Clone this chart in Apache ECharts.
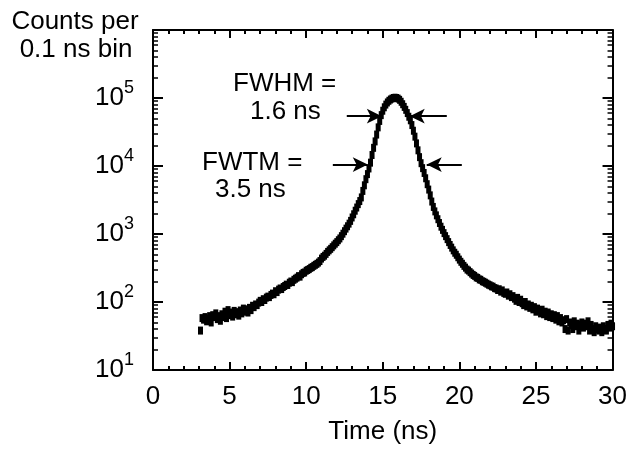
<!DOCTYPE html>
<html>
<head>
<meta charset="utf-8">
<script src="https://cdn.jsdelivr.net/npm/echarts@6/dist/echarts.min.js"></script>
<style>
  html, body { margin: 0; padding: 0; background: #fff; }
  #main { width: 630px; height: 450px; }
</style>
</head>
<body>
<div id="main"></div>
<script>
// time bins (ns), 0.1 ns wide, first bin at 3.1 ns
var startTime = 3.1
var binWidth = 0.1
// counts per bin
var counts = [
  38, 58, 55, 60, 52, 57, 62, 50, 64, 60,
  68, 56, 62, 53, 66, 60, 72, 58, 76, 64,
  70, 61, 74, 66, 71, 63, 75, 68, 80, 72,
  78, 70, 82, 76, 88, 84, 92, 90, 98, 104,
  100, 110, 107, 116, 120, 118, 127, 133, 130, 144,
  140, 152, 158, 155, 166, 172, 180, 178, 192, 200,
  196, 212, 220, 228, 240, 236, 256, 268, 272, 288,
  296, 305, 318, 326, 340, 352, 364, 380, 400, 435,
  460, 480, 510, 545, 575, 605, 640, 680, 720, 760,
  810, 860, 930, 1010, 1100, 1200, 1300, 1420, 1560, 1750,
  1950, 2200, 2450, 2750, 3050, 3450, 4300, 5200, 6400, 7600,
  9200, 11200, 14500, 18500, 23000, 29000, 37000, 46000, 56000, 65000,
  73000, 80000, 86000, 91000, 95000, 98000, 100000, 101000, 100000, 98000,
  94000, 88000, 81000, 74000, 67000, 60000, 53000, 47000, 40000, 33000,
  27000, 21500, 17000, 13500, 11000, 9300, 7900, 6600, 5400, 4500,
  3700, 3000, 2500, 2150, 1880, 1650, 1450, 1280, 1150, 1030,
  930, 840, 760, 690, 630, 575, 530, 495, 455, 420,
  390, 365, 340, 320, 300, 290, 275, 262, 250, 242,
  230, 226, 215, 212, 202, 198, 192, 186, 180, 176,
  170, 168, 160, 158, 150, 154, 142, 148, 136, 132,
  138, 124, 130, 118, 122, 112, 104, 115, 100, 108,
  96, 90, 100, 86, 92, 82, 88, 78, 84, 72,
  80, 75, 68, 77, 66, 72, 62, 70, 60, 66,
  58, 64, 55, 62, 52, 58, 50, 54, 40, 56,
  38, 50, 46, 40, 52, 44, 48, 38, 46, 50,
  42, 48, 44, 52, 38, 46, 40, 36, 44, 40,
  38, 42, 36, 44, 40, 38, 46, 42, 48, 44
]
// minor tick positions on the log axis
var minorY = [20, 30, 40, 50, 60, 70, 80, 90,
  200, 300, 400, 500, 600, 700, 800, 900,
  2000, 3000, 4000, 5000, 6000, 7000, 8000, 9000,
  20000, 30000, 40000, 50000, 60000, 70000, 80000, 90000,
  200000, 300000, 400000, 500000, 600000, 700000, 800000, 900000]
// arrows: [tail x, tip x, level]
var fwhmArrows = [[12.65, 14.94, 54000], [19.18, 16.76, 54000]]
var fwtmArrows = [[11.74, 14.02, 10500], [20.16, 17.87, 10500]]

var points = []
for (var i = 0; i < counts.length; i++) {
  points.push([+(startTime + i * binWidth).toFixed(1), counts[i]])
}

var arrowLines = []
fwhmArrows.concat(fwtmArrows).forEach(function (a) {
  arrowLines.push([{ coord: [a[0], a[2]] }, { coord: [a[1], a[2]] }])
})

var font = 'Liberation Sans, Arial, Helvetica, sans-serif'
var black = '#000'

var myChart = echarts.init(document.getElementById('main'))

function xAx(pos, labels) {
  return {
    type: 'value', position: pos, min: 0, max: 30, interval: 5,
    axisLine: { show: true, onZero: false, lineStyle: { color: black, width: 2 } },
    axisTick: { show: true, inside: true, length: 8, lineStyle: { color: black, width: 2 } },
    minorTick: { show: true, splitNumber: 5, length: 4, lineStyle: { color: black, width: 2 } },
    splitLine: { show: false },
    minorSplitLine: { show: false },
    axisLabel: { show: labels, color: black, fontFamily: font, fontSize: 26, margin: 14 },
    name: labels ? 'Time (ns)' : '',
    nameLocation: 'middle', nameGap: 49,
    nameTextStyle: { color: black, fontFamily: font, fontSize: 26 }
  }
}

function yMajor(pos, labels) {
  return {
    type: 'log', logBase: 10, position: pos, min: 10, max: 1000000,
    axisLine: { show: true, onZero: false, lineStyle: { color: black, width: 2 } },
    axisTick: { show: true, inside: true, length: 10, lineStyle: { color: black, width: 2 } },
    splitLine: { show: false },
    axisLabel: {
      show: labels, margin: 19, color: black,
      formatter: function (v) {
        var e = Math.round(Math.log10(v))
        if (e > 5) return ''
        return '{b|10}{s|' + e + '}'
      },
      rich: {
        b: { fontFamily: font, fontSize: 26, color: black },
        s: { fontFamily: font, fontSize: 18, color: black, padding: [0, 0, 20, 0] }
      }
    }
  }
}

function yMinor(pos) {
  return {
    type: 'log', logBase: 10, position: pos, min: 10, max: 1000000,
    axisLine: { show: false, onZero: false },
    axisTick: { show: true, inside: true, length: 5, customValues: minorY, lineStyle: { color: black, width: 1.5 } },
    axisLabel: { show: false },
    splitLine: { show: false }
  }
}

var option = {
  animation: false,
  backgroundColor: '#fff',
  grid: { left: 153, right: 17, top: 30, bottom: 76 },
  xAxis: [xAx('bottom', true), xAx('top', false)],
  yAxis: [yMajor('left', true), yMinor('left'), yMajor('right', false), yMinor('right')],
  series: [
    {
      type: 'scatter',
      data: points,
      symbol: 'rect',
      symbolSize: [5, 8],
      itemStyle: { color: black, opacity: 1 },
      markLine: {
        silent: true,
        symbol: ['none', 'arrow'],
        symbolSize: [11, 15],
        label: { show: false },
        lineStyle: { color: black, width: 2, type: 'solid' },
        data: arrowLines
      }
    }
  ],
  graphic: [
    { type: 'text', x: 75, y: 22, style: { text: 'Counts per', font: '26px ' + font, fill: black, textAlign: 'center', textVerticalAlign: 'middle' } },
    { type: 'text', x: 76, y: 50, style: { text: '0.1 ns bin', font: '26px ' + font, fill: black, textAlign: 'center', textVerticalAlign: 'middle' } },
    { type: 'text', x: 233, y: 84, style: { text: 'FWHM =', font: '26px ' + font, fill: black, textVerticalAlign: 'middle' } },
    { type: 'text', x: 250, y: 112, style: { text: '1.6 ns', font: '26px ' + font, fill: black, textVerticalAlign: 'middle' } },
    { type: 'text', x: 202, y: 163, style: { text: 'FWTM =', font: '26px ' + font, fill: black, textVerticalAlign: 'middle' } },
    { type: 'text', x: 215, y: 190, style: { text: '3.5 ns', font: '26px ' + font, fill: black, textVerticalAlign: 'middle' } }
  ]
}
myChart.setOption(option)
</script>
</body>
</html>
